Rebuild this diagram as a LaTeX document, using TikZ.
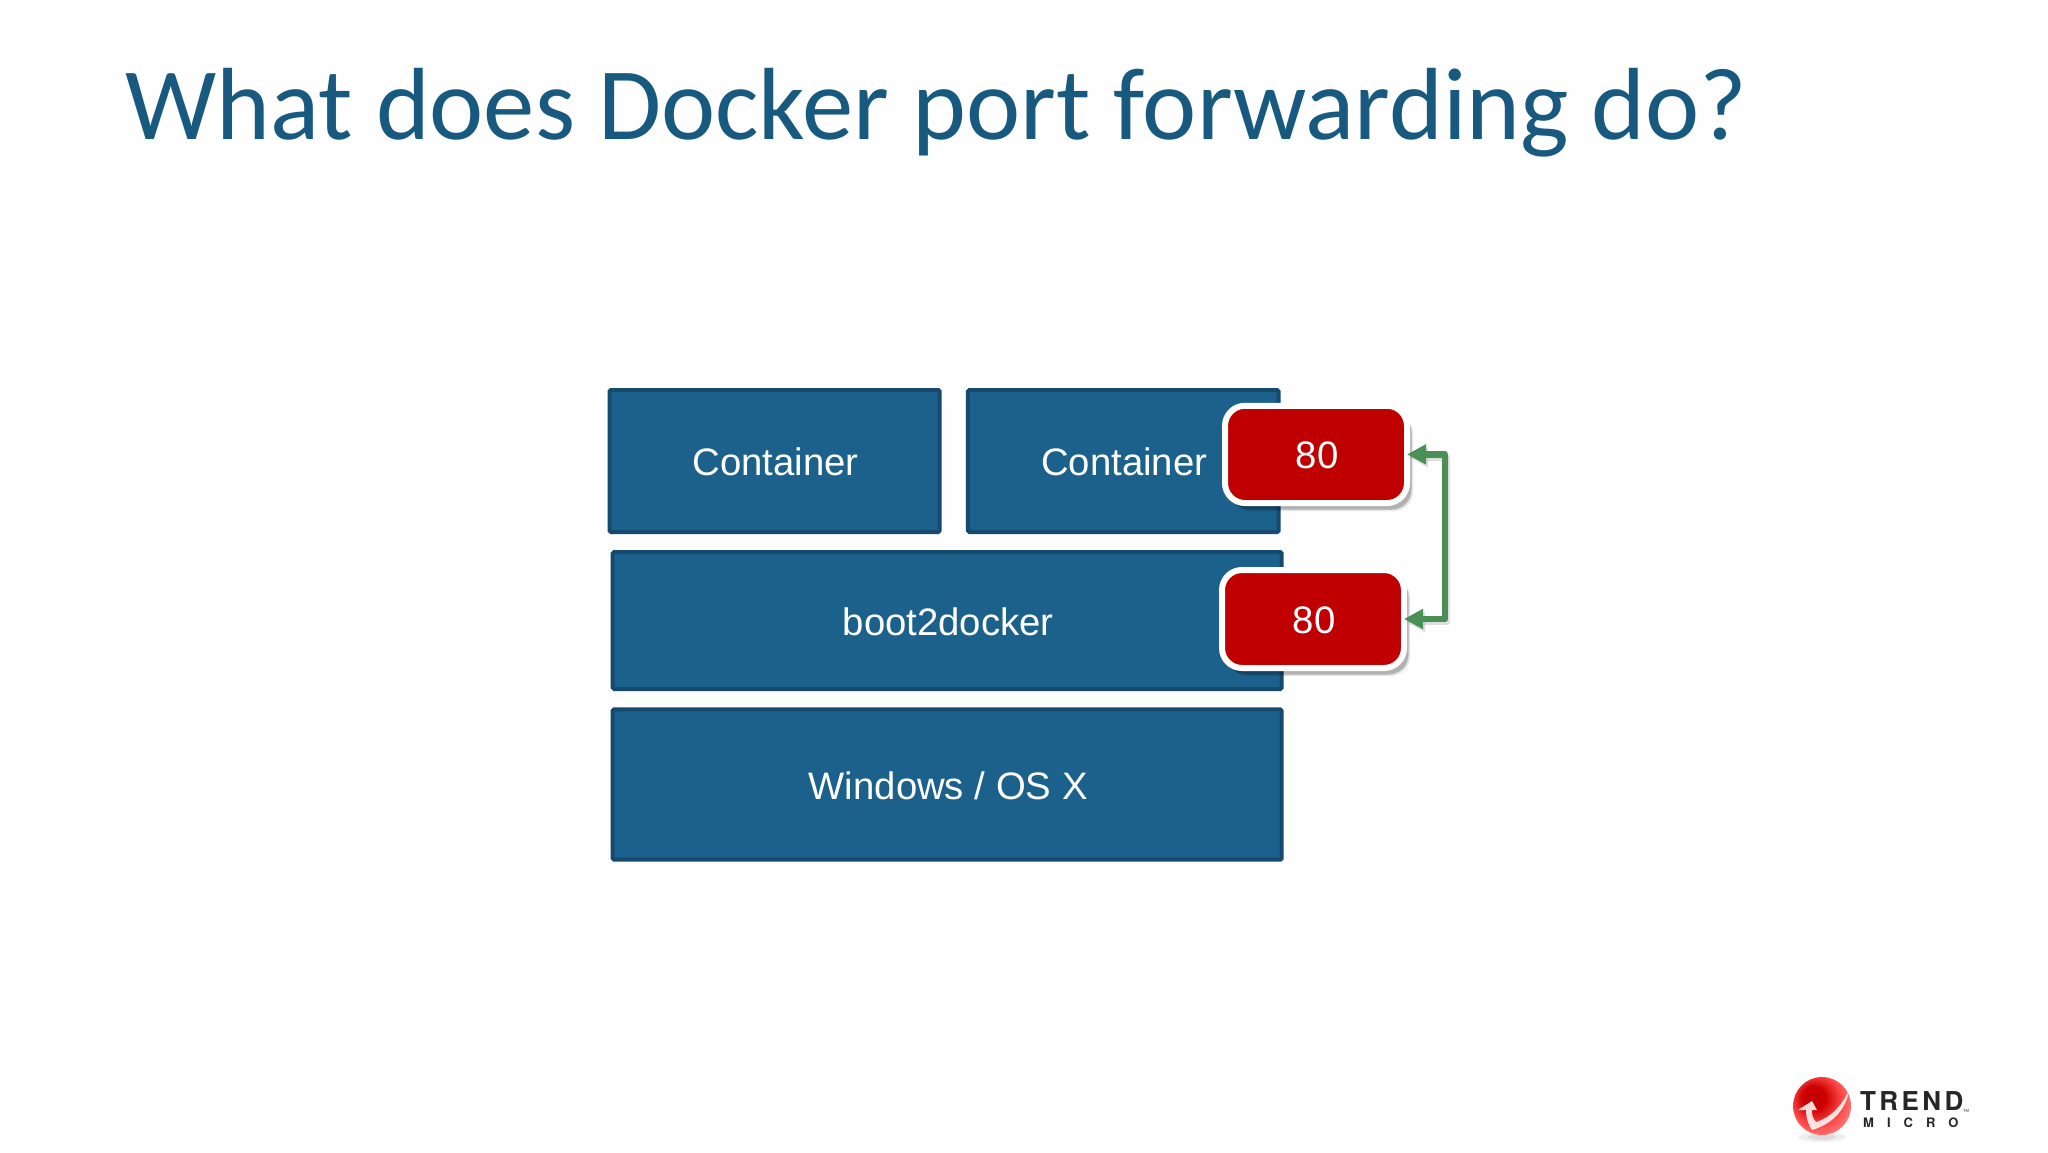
\documentclass[tikz,border=0pt]{standalone}
\usepackage{fontspec}
\usetikzlibrary{arrows.meta,shadows}
\setmainfont{Liberation Sans}
\newfontfamily\titlefont{Carlito}
\newfontfamily\logofont[LetterSpace=13]{TeX Gyre Heros}
\newfontfamily\logosub[LetterSpace=100]{TeX Gyre Heros}
\definecolor{boxfill}{HTML}{1C618B}
\definecolor{boxedge}{HTML}{154A6E}
\definecolor{titleblue}{HTML}{17597F}
\definecolor{portred}{HTML}{C00000}
\definecolor{linkgreen}{HTML}{4A8F54}
\newcommand{\lbl}[1]{\raisebox{-1.3pt}[\height][\depth]{\hspace*{2pt}#1}}
\pgfdeclareradialshading{logoball}{\pgfpoint{-9bp}{9bp}}{
  color(0bp)=(red!75!black); color(10bp)=(red!80!black); color(22bp)=(red!72!white);
  color(36bp)=(red!40!white); color(50bp)=(orange!30!white)}
\tikzset{
  layerbox/.style={draw=boxedge,fill=boxfill,line width=4pt,rounded corners=1.5pt,outer sep=0pt,
    inner sep=0pt,text=white,font=\fontsize{38.3pt}{44pt}\selectfont},
  portbox/.style={draw=white,fill=portred,line width=6pt,rounded corners=20pt,outer sep=0pt,
    inner sep=0pt,minimum width=182pt,text=white,font=\fontsize{38.3pt}{44pt}\selectfont,
    general shadow={shadow xshift=6pt,shadow yshift=-8pt,fill=black,opacity=0.10},
    general shadow={shadow xshift=4.5pt,shadow yshift=-6.5pt,fill=black,opacity=0.22}},
  linkarrow/.style={draw=linkgreen,line width=6.5pt,line join=round,
    {Triangle[length=19pt,width=19pt]}-{Triangle[length=19pt,width=19pt]}},
  linkshadow/.style={linkarrow,draw=black,opacity=0.12,transform canvas={shift={(2pt,-3pt)}}},
  titletext/.style={inner sep=0pt,anchor=base west,text=titleblue,font=\titlefont\fontsize{102.6pt}{110pt}\selectfont},
}
\begin{document}
\begin{tikzpicture}[x=1pt,y=-1pt]
\useasboundingbox (0,0) rectangle (2048,1152);
\fill[white!99.5!black] (0,0) rectangle (2048,1152);
\node[titletext] (title) at (125,139.5) {What does Docker port forwarding do?};

\node[layerbox,minimum width=330.2pt,minimum height=142pt] (c1) at (774.6,461) {\lbl{Container}};
\node[layerbox,minimum width=310.7pt,minimum height=142pt] (c2) at (1123.3,461) {\lbl{Container}};
\node[layerbox,minimum width=669pt,minimum height=137pt] (b2d) at (947.2,620.5) {\lbl{boot2docker}};
\node[layerbox,minimum width=669pt,minimum height=150.4pt] (os) at (947.2,784.5) {\lbl{Windows / OS X}};

\node[portbox,minimum height=97.3pt] (p1) at (1316,454.4) {\lbl{80}};
\node[portbox,minimum height=98pt] (p2) at (1313,619) {\lbl{80}};

\coordinate (bend) at (1445,536);
\draw[linkshadow] (p1.east) -| (bend) |- (p2.east);
\draw[linkarrow] (p1.east) -| (bend) |- (p2.east);

% logo
\fill[black,opacity=0.06] (1822,1137) ellipse (24 and 5);
\fill[black,opacity=0.08] (1822,1137) ellipse (14 and 3);
\shade[shading=logoball] (1822,1106) circle (29);
\fill[white,opacity=0.85] (1849,1090) .. controls (1846,1110) and (1832,1124) .. (1812,1130)
  .. controls (1808,1124) and (1806,1118) .. (1806,1110) -- (1798,1110) -- (1812,1101) -- (1817,1110)
  -- (1812,1110) .. controls (1812,1116) and (1813,1119) .. (1816,1122)
  .. controls (1830,1118) and (1842,1106) .. (1849,1090) -- cycle;
\node[inner sep=0pt,anchor=base west,text=black!85,font=\logofont\bfseries\fontsize{26pt}{28pt}\selectfont] (trend) at (1860,1110) {TREND};
\node[inner sep=0pt,anchor=base west,text=black!85,font=\logosub\bfseries\fontsize{13pt}{14pt}\selectfont] (micro) at (1863,1127) {MICRO};
\node[inner sep=0pt,anchor=center,text=black!70,font=\fontsize{7pt}{8pt}\selectfont] (tm) at (1966,1112) {™};
\end{tikzpicture}
\end{document}
